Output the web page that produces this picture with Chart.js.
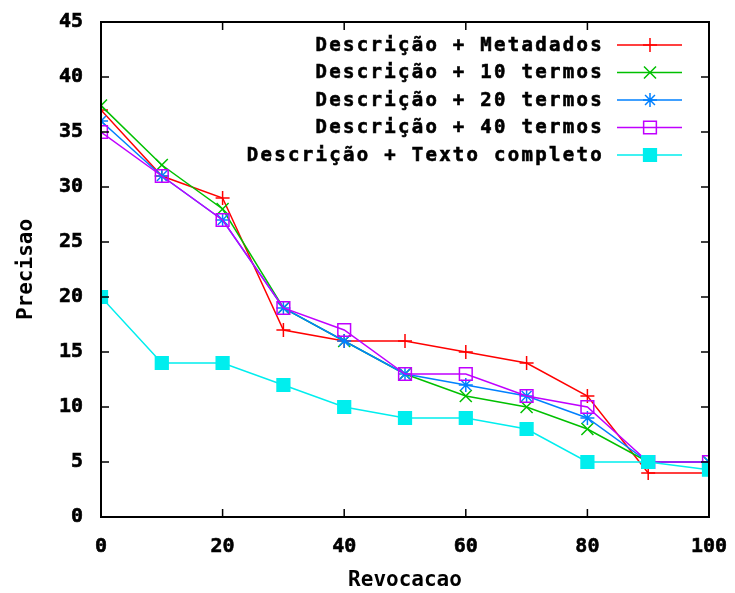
<!DOCTYPE html>
<html>
<head>
<meta charset="utf-8">
<script src="https://cdn.jsdelivr.net/npm/chart.js@4.4.0/dist/chart.umd.min.js"></script>
<style>
  html, body { margin: 0; padding: 0; background: #fff; }
  .chart { position: relative; width: 735px; height: 593px; }
</style>
</head>
<body>
<div class="chart"><canvas id="precisao"></canvas></div>
<script>
// recall levels (x) and precision per run
const revocacao = [0, 10, 20, 30, 40, 50, 60, 70, 80, 90, 100];
const metadados = [37, 31, 29, 17, 16, 16, 15, 14, 11, 4, 4];
const termos10 = [37.4, 32, 28, 19, 16, 13, 11, 10, 8, 5, 5];
const termos20 = [36, 31, 27, 19, 16, 13, 12, 11, 9, 5, 5];
const termos40 = [35, 31, 27, 19, 17, 13, 13, 11, 10, 5, 5];
const textoCompleto = [20, 14, 14, 12, 10, 9, 9, 8, 5, 5, 4.3];

const seriesLabels = [
  'Descrição + Metadados',
  'Descrição + 10 termos',
  'Descrição + 20 termos',
  'Descrição + 40 termos',
  'Descrição + Texto completo',
];
const xTicks = [0, 20, 40, 60, 80, 100];
const yTicks = [0, 5, 10, 15, 20, 25, 30, 35, 40, 45];

const FONT = { family: '"DejaVu Sans Mono", monospace', size: 19, weight: 'bold' };
const TICK_FONT = { ...FONT, size: 20 };
const TITLE_FONT = { ...FONT, size: 21 };
const SPACING = '2.3px';

const toPoints = (ys) => ys.map((y, i) => ({ x: revocacao[i], y }));

function series(idx, values, color, style, radius, fill) {
  return {
    label: seriesLabels[idx],
    data: toPoints(values),
    borderColor: color,
    backgroundColor: color,
    borderWidth: 1.5,
    pointStyle: style,
    pointRadius: radius,
    pointHoverRadius: radius,
    pointBorderColor: color,
    pointBackgroundColor: fill,
    pointBorderWidth: 1.5,
    tension: 0,
    order: 4 - idx,
  };
}

const datasets = [
  series(0, metadados, '#ff0000', 'cross', 7, '#ff0000'),
  series(1, termos10, '#00c000', 'crossRot', 8.5, '#00c000'),
  series(2, termos20, '#0080ff', 'star', 7, '#0080ff'),
  series(3, termos40, '#c000ff', 'rect', 9, 'rgba(0,0,0,0)'),
  series(4, textoCompleto, '#00eeee', 'rect', 9, '#00eeee'),
];

// frame, inward ticks on all four sides, and the gnuplot-style key
const frame = {
  id: 'frame',
  afterDatasetsDraw(chart) {
    const { ctx, chartArea: a, scales } = chart;
    ctx.save();
    ctx.strokeStyle = '#000';
    ctx.lineWidth = 1.5;
    ctx.beginPath();
    const t = 8;
    xTicks.forEach((v) => {
      const px = scales.x.getPixelForValue(v);
      ctx.moveTo(px, a.bottom); ctx.lineTo(px, a.bottom - t);
      ctx.moveTo(px, a.top); ctx.lineTo(px, a.top + t);
    });
    yTicks.forEach((v) => {
      const py = scales.y.getPixelForValue(v);
      ctx.moveTo(a.left, py); ctx.lineTo(a.left + t, py);
      ctx.moveTo(a.right, py); ctx.lineTo(a.right - t, py);
    });
    ctx.stroke();
    ctx.lineWidth = 2;
    ctx.strokeRect(a.left, a.top, a.right - a.left, a.bottom - a.top);

    // key: label right-aligned, then line sample with the marker
    ctx.font = `${FONT.weight} ${FONT.size}px ${FONT.family}`;
    ctx.letterSpacing = SPACING;
    ctx.textAlign = 'right';
    ctx.textBaseline = 'middle';
    chart.data.datasets.forEach((ds, i) => {
      const y = a.top + 23 + i * 27.5;
      ctx.fillStyle = '#000';
      ctx.strokeStyle = '#000';
      ctx.lineWidth = 0.6;
      ctx.fillText(ds.label, a.right - 105, y + 1);
      ctx.strokeText(ds.label, a.right - 105, y + 1);
      ctx.strokeStyle = ds.borderColor;
      ctx.lineWidth = 1.5;
      ctx.beginPath();
      ctx.moveTo(a.right - 92, y);
      ctx.lineTo(a.right - 27, y);
      ctx.stroke();
      ctx.fillStyle = ds.pointBackgroundColor;
      Chart.helpers.drawPoint(ctx, {
        pointStyle: ds.pointStyle,
        radius: ds.pointRadius,
        borderWidth: ds.pointBorderWidth,
        rotation: 0,
      }, a.right - 59, y);
    });
    ctx.restore();
  },
};

const ctx = document.getElementById('precisao').getContext('2d');
new Chart(ctx, {
  type: 'line',
  data: { datasets },
  options: {
    responsive: true,
    maintainAspectRatio: false,
    animation: false,
    layout: { padding: { top: 22, right: 26, left: 0, bottom: 0 } },
    plugins: {
      legend: { display: false },
      tooltip: { enabled: false },
    },
    scales: {
      x: {
        type: 'linear',
        min: 0,
        max: 100,
        afterBuildTicks: (scale) => { scale.ticks = xTicks.map((value) => ({ value })); },
        afterFit: (scale) => {
          scale.height = 76;
          scale.paddingLeft = 0;
          scale.paddingRight = 0;
        },
        ticks: { color: '#000', font: TICK_FONT, padding: 18, maxRotation: 0, textStrokeColor: '#000', textStrokeWidth: 0.6 },
        grid: { display: false, drawTicks: false },
        border: { display: false },
        title: { display: true, text: 'Revocacao', color: '#000', font: TITLE_FONT, padding: { top: 0, bottom: 0 } },
      },
      y: {
        min: 0,
        max: 45,
        afterBuildTicks: (scale) => { scale.ticks = yTicks.map((value) => ({ value })); },
        afterFit: (scale) => {
          scale.width = 101;
          scale.paddingTop = 0;
          scale.paddingBottom = 0;
        },
        ticks: { color: '#000', font: TICK_FONT, padding: 18, textStrokeColor: '#000', textStrokeWidth: 0.6 },
        grid: { display: false, drawTicks: false },
        border: { display: false },
        title: { display: true, text: 'Precisao', color: '#000', font: TITLE_FONT, padding: { top: 14, bottom: 0 } },
      },
    },
  },
  plugins: [frame],
});
</script>
</body>
</html>
